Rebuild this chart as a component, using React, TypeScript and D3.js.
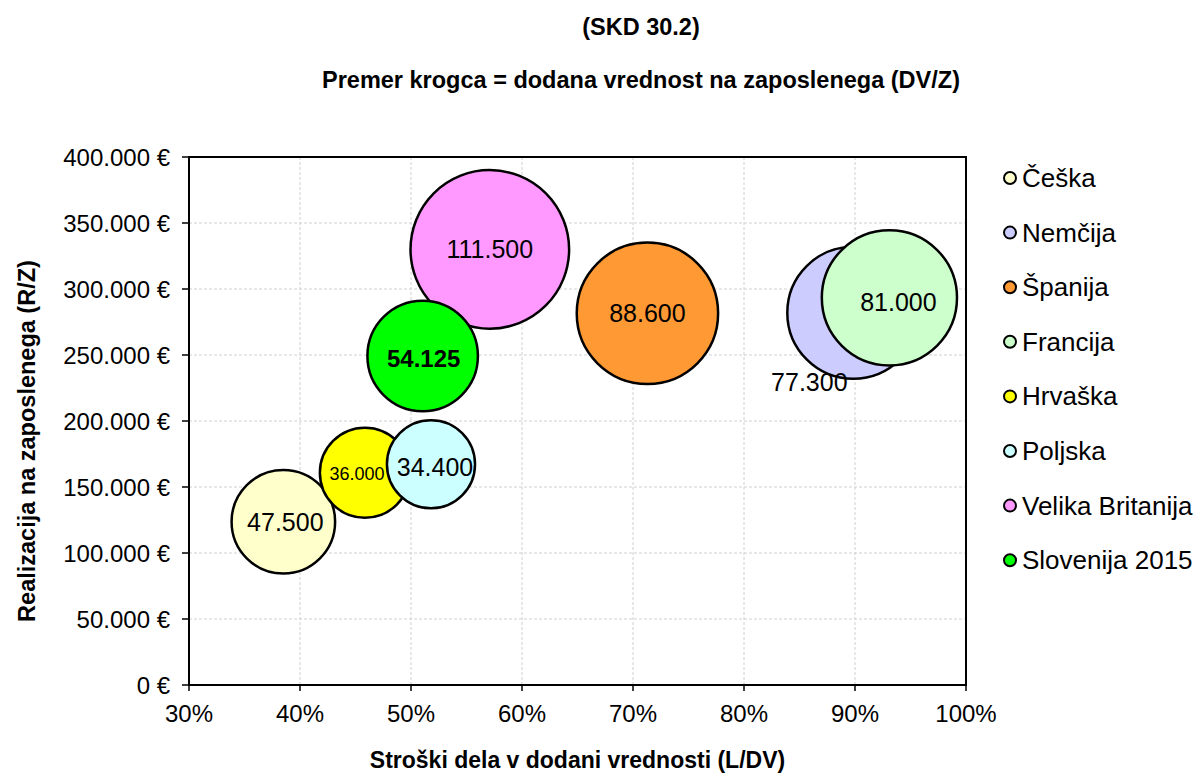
import React from "react";
import * as d3 from "d3";

const countries = ["Češka", "Nemčija", "Španija", "Francija", "Hrvaška", "Poljska", "Velika Britanija", "Slovenija 2015"];
const laborShare = [0.385, 0.8985, 0.713, 0.931, 0.4585, 0.518, 0.571, 0.5105];
const revenuePerEmp = [123700, 282000, 281600, 293300, 160800, 167200, 330000, 249200];
const valueAdded = [47500, 77300, 88600, 81000, 36000, 34400, 111500, 54125];
const valueLabels = ["47.500", "77.300", "88.600", "81.000", "36.000", "34.400", "111.500", "54.125"];
const colors = ["#FFFFCC", "#CCCCFF", "#FF9933", "#CCFFCC", "#FFFF00", "#CCFFFF", "#FF99FF", "#00FF00"];
const xTicks = [0.3, 0.4, 0.5, 0.6, 0.7, 0.8, 0.9, 1.0];
const yTicks = [0, 50000, 100000, 150000, 200000, 250000, 300000, 350000, 400000];

const title1 = "(SKD 30.2)";
const title2 = "Premer krogca = dodana vrednost na zaposlenega (DV/Z)";
const xTitle = "Stroški dela v dodani vrednosti (L/DV)";
const yTitle = "Realizacija na zaposlenega (R/Z)";

// label style tweaks (offsets in px, font size, weight)
const labelStyle = [
  { dx: 2, dy: 9, fs: 25, fw: "normal" },
  { dx: -44, dy: 78, fs: 25, fw: "normal" },
  { dx: 0, dy: 9, fs: 25, fw: "normal" },
  { dx: 9, dy: 13, fs: 25, fw: "normal" },
  { dx: -8, dy: 7, fs: 18, fw: "normal" },
  { dx: 4, dy: 12, fs: 25, fw: "normal" },
  { dx: 0, dy: 9, fs: 25, fw: "normal" },
  { dx: 1, dy: 11, fs: 24, fw: "bold" },
];

const fmtEuro = (v: number) => {
  const s = d3.format(",")(v).replace(/,/g, ".");
  return s + " €";
};

export default function App() {
  const W = 1200, H = 773;
  const left = 189, right = 966, top = 157, bottom = 685;
  const x = d3.scaleLinear().domain([0.3, 1.0]).range([left, right]);
  const y = d3.scaleLinear().domain([0, 400000]).range([bottom, top]);
  const r = d3.scaleSqrt().domain([0, 111500]).range([0, 79.3]);
  const font = "Arial, 'Liberation Sans', sans-serif";

  return (
    <svg width={W} height={H} style={{ position: "absolute", left: 0, top: 0, background: "#fff" }} fontFamily={font}>
      <text x={641} y={35} textAnchor="middle" fontSize={23.5} fontWeight="bold">{title1}</text>
      <text x={641} y={88} textAnchor="middle" fontSize={23.5} fontWeight="bold">{title2}</text>

      {/* grid */}
      {xTicks.slice(1, -1).map((t) => (
        <line key={"gx" + t} x1={x(t)} x2={x(t)} y1={top} y2={bottom} stroke="#d0d0d0" strokeDasharray="3,2" strokeWidth={1} />
      ))}
      {yTicks.slice(1, -1).map((t) => (
        <line key={"gy" + t} x1={left} x2={right} y1={y(t)} y2={y(t)} stroke="#d0d0d0" strokeDasharray="3,2" strokeWidth={1} />
      ))}
      <rect x={left} y={top} width={right - left} height={bottom - top} fill="none" stroke="#000" strokeWidth={2} />

      {/* ticks */}
      {yTicks.map((t) => (
        <g key={"ty" + t}>
          <line x1={left - 7} x2={left} y1={y(t)} y2={y(t)} stroke="#000" strokeWidth={1.5} />
          <text x={170} y={y(t) + 9} textAnchor="end" fontSize={24}>{fmtEuro(t)}</text>
        </g>
      ))}
      {xTicks.map((t) => (
        <g key={"tx" + t}>
          <line x1={x(t)} x2={x(t)} y1={bottom} y2={bottom + 6} stroke="#000" strokeWidth={1.5} />
          <text x={x(t)} y={722} textAnchor="middle" fontSize={24}>{d3.format(".0%")(t)}</text>
        </g>
      ))}

      <text x={(left + right) / 2} y={768} textAnchor="middle" fontSize={23} fontWeight="bold">{xTitle}</text>
      <text transform={`translate(35, 441) rotate(-90)`} textAnchor="middle" fontSize={23.5} fontWeight="bold">{yTitle}</text>

      {/* bubbles */}
      {countries.map((c, i) => (
        <circle key={"b" + c} cx={x(laborShare[i])} cy={y(revenuePerEmp[i])} r={r(valueAdded[i])} fill={colors[i]} stroke="#000" strokeWidth={2.5} />
      ))}
      {countries.map((c, i) => (
        <text key={"l" + c} x={x(laborShare[i]) + labelStyle[i].dx} y={y(revenuePerEmp[i]) + labelStyle[i].dy}
          textAnchor="middle" fontSize={labelStyle[i].fs} fontWeight={labelStyle[i].fw}>{valueLabels[i]}</text>
      ))}

      {/* legend */}
      {countries.map((c, i) => (
        <g key={"lg" + c} transform={`translate(1010, ${178 + i * 54.6})`}>
          <circle cx={0} cy={0} r={6} fill={colors[i]} stroke="#000" strokeWidth={2} />
          <text x={12} y={9} fontSize={26}>{c}</text>
        </g>
      ))}
    </svg>
  );
}
